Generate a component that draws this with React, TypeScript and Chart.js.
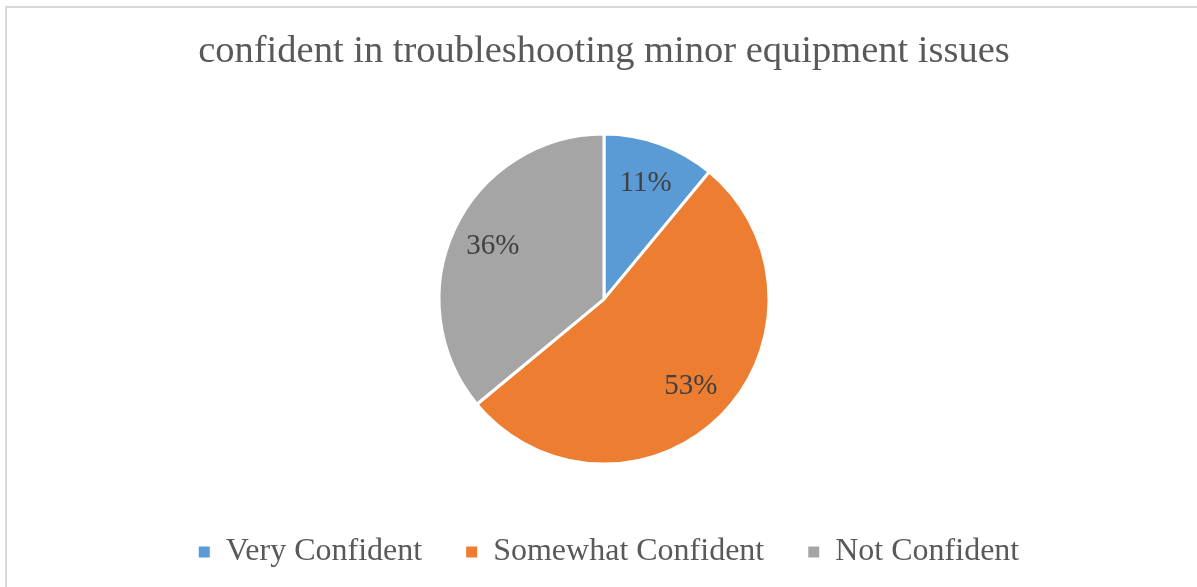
import React, { useEffect, useRef } from "react";
import { Chart, registerables } from "chart.js";

Chart.register(...registerables);

const TITLE = "confident in troubleshooting minor equipment issues";
const categories = ["Very Confident", "Somewhat Confident", "Not Confident"];
const shares = [11, 53, 36];
const sliceColors = ["#5B9BD5", "#ED7D31", "#A5A5A5"];

const SERIF = "'Liberation Serif', 'Times New Roman', serif";

// Writes each slice's percentage inside its wedge, along the wedge's mid-angle.
const sliceLabels = {
  id: "sliceLabels",
  afterDatasetsDraw(chart: any) {
    const ctx = chart.ctx;
    const meta = chart.getDatasetMeta(0);
    const values = chart.data.datasets[0].data as number[];
    ctx.save();
    ctx.font = `29px ${SERIF}`;
    ctx.fillStyle = "#404040";
    ctx.textAlign = "center";
    ctx.textBaseline = "middle";
    meta.data.forEach((arc: any, i: number) => {
      const { x, y, startAngle, endAngle, outerRadius } = arc.getProps(
        ["x", "y", "startAngle", "endAngle", "outerRadius"],
        true
      );
      const mid = (startAngle + endAngle) / 2;
      const r = outerRadius * 0.745;
      ctx.fillText(`${values[i]}%`, x + Math.cos(mid) * r, y + Math.sin(mid) * r);
    });
    ctx.restore();
  },
};

// Nudges the legend row a little to the right of the pie's centre line.
const legendNudge = {
  id: "legendNudge",
  afterLayout(chart: any) {
    const lg = chart.legend;
    if (lg) {
      lg.left += 5;
      lg.right += 5;
    }
  },
};

export default function App() {
  const canvasRef = useRef<HTMLCanvasElement | null>(null);

  useEffect(() => {
    document.body.style.margin = "0";
    document.body.style.overflow = "hidden";
    const baseLabels = (Chart as any).overrides.pie.plugins.legend.labels.generateLabels;
    const chart = new Chart(canvasRef.current!, {
      type: "pie",
      data: {
        labels: categories,
        datasets: [
          {
            data: shares,
            backgroundColor: sliceColors,
            borderColor: "#ffffff",
            borderWidth: 3,
            radius: 165,
          },
        ],
      },
      options: {
        animation: false,
        responsive: false,
        layout: { padding: { left: 11, right: 0, top: 0, bottom: 9 } },
        plugins: {
          title: {
            display: true,
            text: TITLE,
            color: "#595959",
            font: { family: SERIF, size: 38.5, weight: "normal", lineHeight: 1.2 },
            padding: { top: 29, bottom: 31 },
          },
          legend: {
            display: true,
            position: "bottom",
            labels: {
              color: "#595959",
              font: { family: SERIF, size: 32 },
              boxWidth: 11,
              boxHeight: 11,
              padding: 44,
              generateLabels: (c: any) =>
                baseLabels(c).map((l: any) => ({ ...l, lineWidth: 0 })),
            },
          },
          tooltip: { enabled: false },
        },
      },
      plugins: [sliceLabels, legendNudge],
    });
    return () => chart.destroy();
  }, []);

  return (
    <div style={{ position: "relative", width: 1197, height: 587, background: "#ffffff" }}>
      <canvas
        ref={canvasRef}
        width={1197}
        height={587}
        style={{ position: "absolute", left: 0, top: 0, width: 1197, height: 587 }}
      />
      <div
        style={{
          position: "absolute",
          left: 5,
          top: 6,
          width: 1192,
          height: 581,
          borderLeft: "2px solid #d9d9d9",
          borderTop: "2px solid #d9d9d9",
          boxSizing: "border-box",
          pointerEvents: "none",
        }}
      />
    </div>
  );
}
